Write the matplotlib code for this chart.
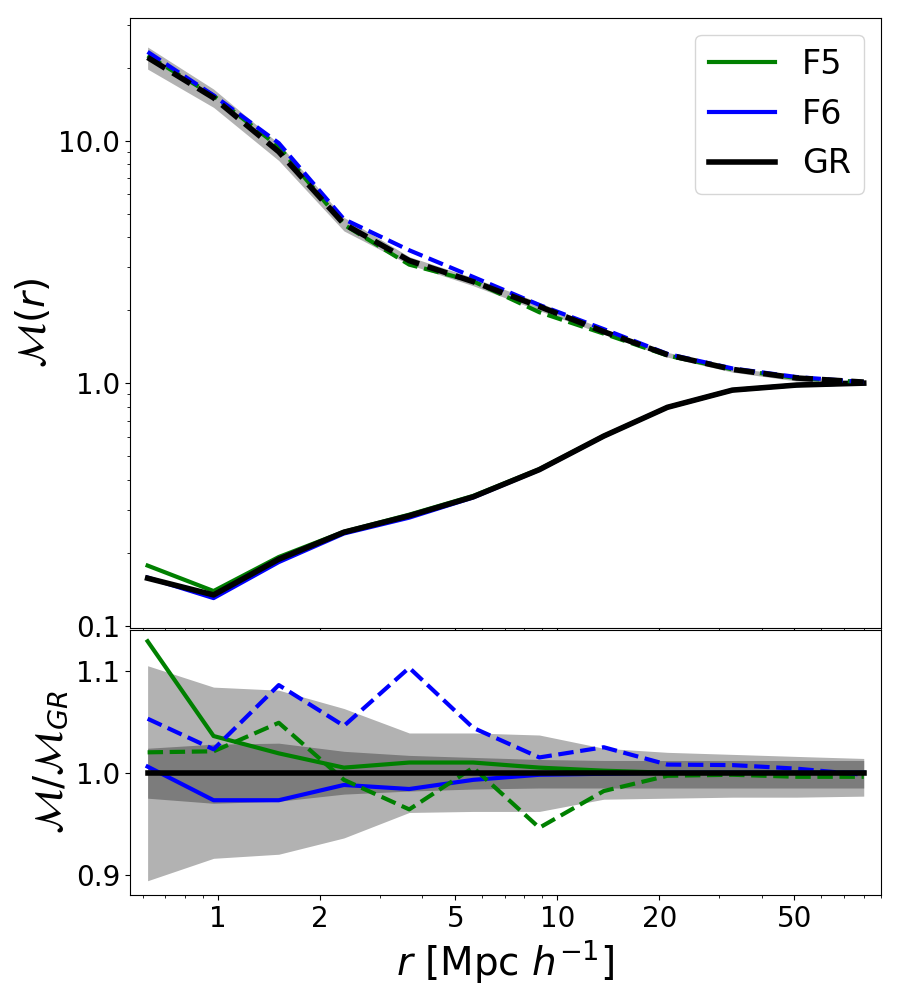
import matplotlib
matplotlib.use('Agg')
import matplotlib.pyplot as plt
from matplotlib.ticker import FormatStrFormatter, ScalarFormatter, NullFormatter

# separations (Mpc/h)
r = [0.62, 0.97, 1.51, 2.35, 3.66, 5.65, 8.85, 13.7, 21.1, 32.8, 50.7, 80.0]

# top panel, solid curves
gr_solid = [0.157, 0.134, 0.188, 0.243, 0.284, 0.340, 0.440, 0.605, 0.795, 0.936, 0.982, 1.0]
f5_solid = [0.177, 0.139, 0.192, 0.244, 0.287, 0.343, 0.442, 0.606, 0.795, 0.936, 0.982, 1.0]
f6_solid = [0.158, 0.130, 0.183, 0.240, 0.279, 0.338, 0.439, 0.604, 0.795, 0.936, 0.982, 1.0]

# top panel, dashed curves
gr_dash = [22.0, 15.0, 8.99, 4.53, 3.2, 2.62, 2.07, 1.63, 1.31, 1.14, 1.05, 1.01]
f5_dash = [22.4, 15.3, 9.43, 4.50, 3.08, 2.63, 1.96, 1.60, 1.30, 1.14, 1.05, 1.01]
f6_dash = [23.2, 15.35, 9.76, 4.74, 3.53, 2.74, 2.10, 1.67, 1.32, 1.15, 1.06, 1.01]
gr_dash_hi = [24.3, 16.3, 9.72, 4.82, 3.32, 2.72, 2.15, 1.67, 1.34, 1.16, 1.07, 1.02]
gr_dash_lo = [19.7, 13.7, 8.27, 4.24, 3.08, 2.52, 1.99, 1.59, 1.28, 1.11, 1.02, 0.99]

# bottom panel, ratios to GR
f5_ratio_solid = [1.129, 1.036, 1.019, 1.005, 1.010, 1.010, 1.005, 1.002, 1.0, 1.0, 1.0, 1.0]
f6_ratio_solid = [1.006, 0.973, 0.973, 0.988, 0.984, 0.993, 0.998, 0.999, 1.0, 1.0, 1.0, 1.0]
f5_ratio_dash = [1.020, 1.021, 1.049, 0.993, 0.964, 1.005, 0.946, 0.982, 0.997, 0.998, 0.996, 0.996]
f6_ratio_dash = [1.053, 1.023, 1.086, 1.046, 1.103, 1.044, 1.015, 1.025, 1.008, 1.0075, 1.004, 0.998]
gr_ratio = [1.0] * len(r)

band_out_hi = [1.105, 1.084, 1.081, 1.063, 1.039, 1.039, 1.037, 1.024, 1.020, 1.018, 1.016, 1.014]
band_out_lo = [0.894, 0.916, 0.920, 0.936, 0.961, 0.962, 0.962, 0.974, 0.975, 0.976, 0.976, 0.977]
band_in_hi = [1.024, 1.028, 1.029, 1.021, 1.017, 1.015, 1.013, 1.012, 1.012, 1.012, 1.012, 1.012]
band_in_lo = [0.975, 0.970, 0.972, 0.979, 0.982, 0.984, 0.985, 0.985, 0.985, 0.985, 0.985, 0.985]

xticks = [1, 2, 5, 10, 20, 50]

fig, (ax, axr) = plt.subplots(2, 1, figsize=(9, 10), sharex=True,
                              gridspec_kw={'height_ratios': [610, 265]})
plt.subplots_adjust(left=0.1444, right=0.979, top=0.982, bottom=0.105, hspace=0.005)

# top panel
ax.fill_between(r, gr_dash_lo, gr_dash_hi, color='k', alpha=0.3, lw=0)
ax.plot(r, f5_solid, color='green', lw=3, label='F5')
ax.plot(r, f6_solid, color='blue', lw=3, label='F6')
ax.plot(r, gr_solid, color='black', lw=4, label='GR')
ax.plot(r, f5_dash, color='green', lw=3, ls='--')
ax.plot(r, f6_dash, color='blue', lw=3, ls='--')
ax.plot(r, gr_dash, color='black', lw=4, ls='--')
ax.set_xscale('log')
ax.set_yscale('log')
ax.set_xlim(0.55, 90)
ax.set_ylim(0.098, 32)
ax.yaxis.set_major_formatter(FormatStrFormatter('%.1f'))
ax.yaxis.set_minor_formatter(NullFormatter())
ax.set_ylabel(r'$\mathcal{M}(r)$', fontsize=28)
ax.tick_params(labelsize=20)
ax.legend(loc='upper right', fontsize=24)

# bottom panel
axr.fill_between(r, band_out_lo, band_out_hi, color='k', alpha=0.3, lw=0)
axr.fill_between(r, band_in_lo, band_in_hi, color='k', alpha=0.3, lw=0)
axr.plot(r, f5_ratio_solid, color='green', lw=3)
axr.plot(r, f6_ratio_solid, color='blue', lw=3)
axr.plot(r, f5_ratio_dash, color='green', lw=3, ls='--')
axr.plot(r, f6_ratio_dash, color='blue', lw=3, ls='--')
axr.plot(r, gr_ratio, color='black', lw=4)
axr.set_ylim(0.88, 1.14)
axr.set_yticks([0.9, 1.0, 1.1])
axr.set_xticks(xticks)
axr.xaxis.set_major_formatter(ScalarFormatter())
axr.xaxis.set_minor_formatter(NullFormatter())
axr.tick_params(labelsize=20)
axr.set_ylabel(r'$\mathcal{M}/\mathcal{M}_{GR}$', fontsize=28)
axr.set_xlabel(r'$r$ [Mpc $h^{-1}$]', fontsize=28)

plt.savefig('out.png', dpi=100)
